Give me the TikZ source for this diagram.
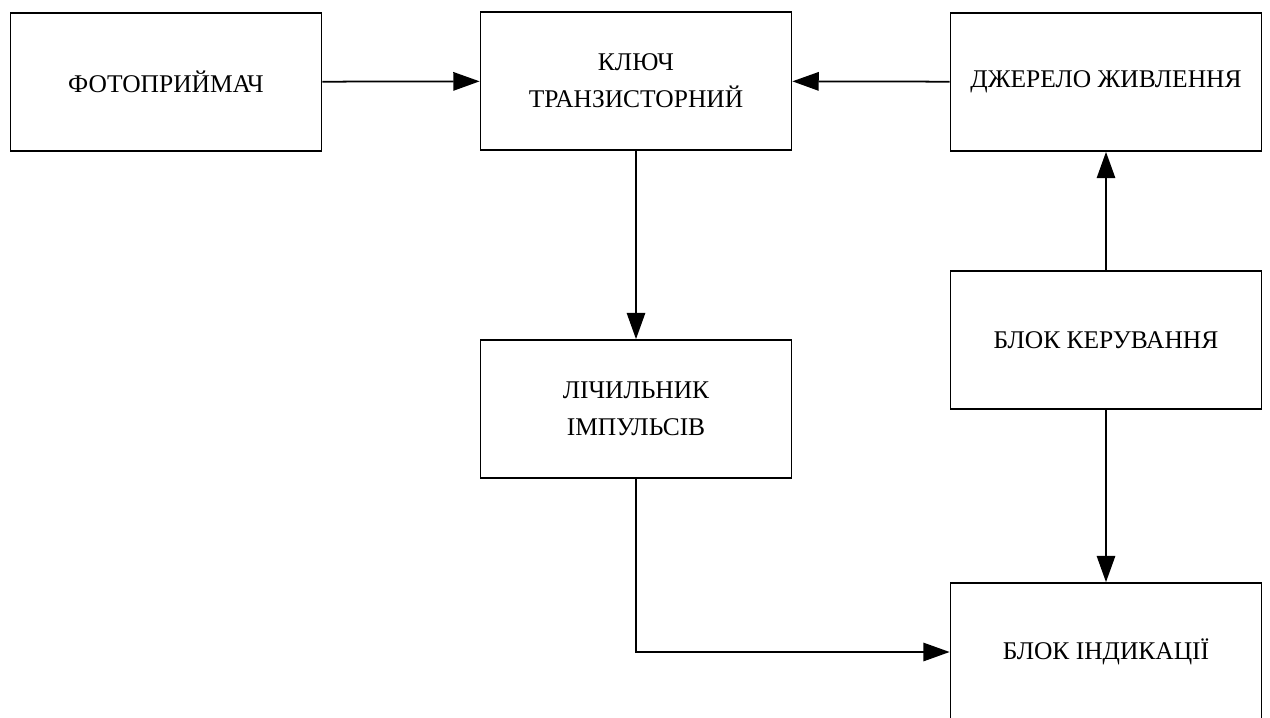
\documentclass[tikz,border=0pt]{standalone}
\usepackage{fontspec}
\setmainfont{Liberation Serif}
\usetikzlibrary{arrows.meta}
\begin{document}
\begin{tikzpicture}
            [block/.style={rectangle,draw,line width=1pt,minimum width=6.22cm,minimum height=2.76cm,
                align=center,font=\fontsize{14.5}{21}\selectfont},
        link/.style={line width=1pt,-{Triangle[length=15pt,width=10.5pt]}}]
            \useasboundingbox (0,0) rectangle (25.4,-14.34);
            \clip (0,0) rectangle (25.4,-14.34);
            \node[block] (F) at (3.32,-1.64) {ФОТОПРИЙМАЧ};
            \node[block] (K) at (12.72,-1.62) {КЛЮЧ\\ТРАНЗИСТОРНИЙ};
            \node[block] (D) at (22.12,-1.64) {ДЖЕРЕЛО ЖИВЛЕННЯ};
            \node[block] (L) at (12.72,-8.18) {ЛІЧИЛЬНИК\\ІМПУЛЬСІВ};
            \node[block] (U) at (22.12,-6.80) {БЛОК КЕРУВАННЯ};
            \node[block] (I) at (22.12,-13.04) {БЛОК ІНДИКАЦІЇ};

            \draw[link] (F) -- (K);
            \draw[link] (D) -- (K);
            \draw[link] (K) -- (L);
            \draw[link] (U) -- (D);
            \draw[link] (U) -- (I);
            \draw[link] (L.south) |- (I.west);
        \end{tikzpicture}
\end{document}
